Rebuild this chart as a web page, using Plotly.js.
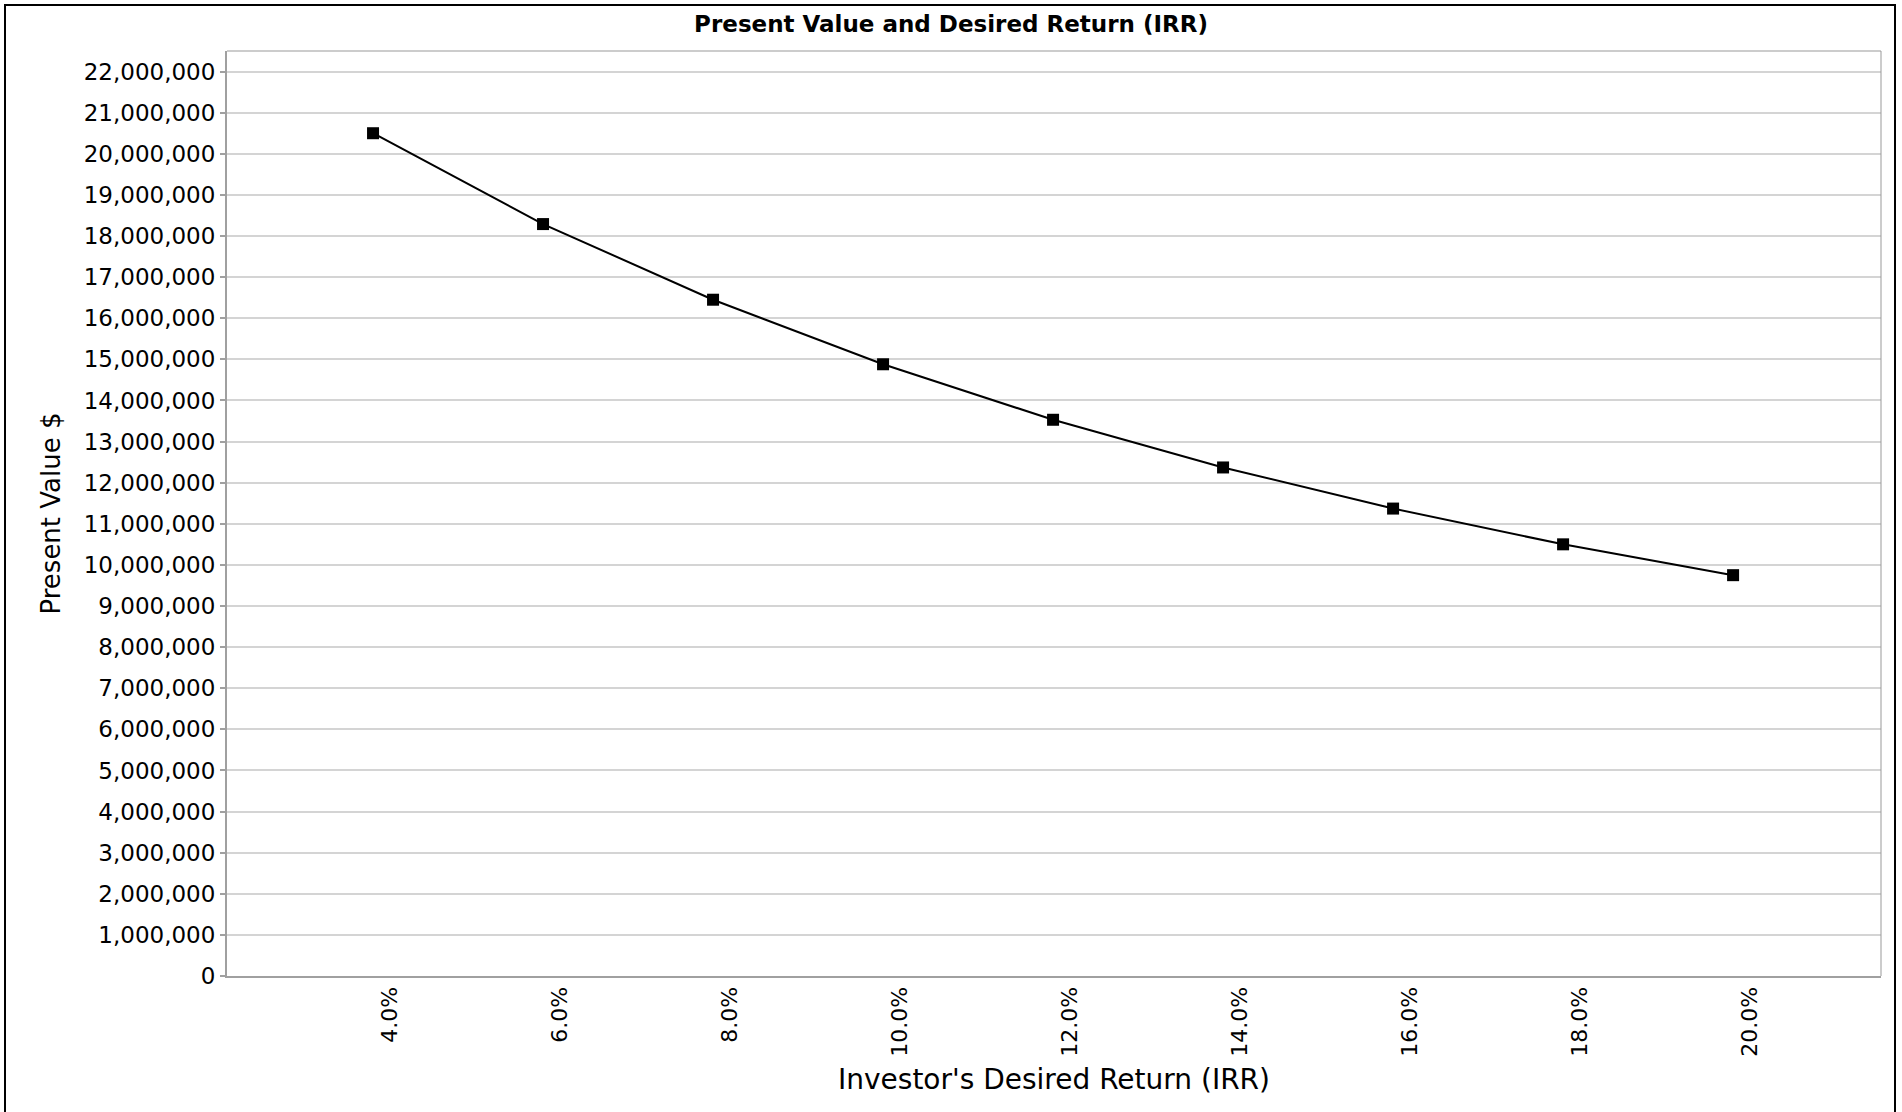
<!DOCTYPE html>
<html>
<head>
<meta charset="utf-8">
<script src="https://cdn.plot.ly/plotly-3.0.1.min.js"></script>
<style>
  html, body { margin: 0; padding: 0; background: #ffffff; }
  #wrap { position: relative; width: 1902px; height: 1112px; overflow: hidden; }
  #chart { position: absolute; left: 0; top: 0; width: 1902px; height: 1112px; }
  #frame { position: absolute; left: 4px; top: 4px; width: 1888px; height: 1130px;
           border: 2px solid #000; pointer-events: none; }
</style>
</head>
<body>
<div id="wrap">
  <div id="chart"></div>
  <div id="frame"></div>
</div>
<script>
// Data
const irrRates = [0.04, 0.06, 0.08, 0.10, 0.12, 0.14, 0.16, 0.18, 0.20];
const presentValues = [20500000, 18290000, 16450000, 14880000, 13530000, 12370000, 11370000, 10500000, 9750000];
const chartTitle = "Present Value and Desired Return (IRR)";
const xTitle = "Investor's Desired Return (IRR)";
const yTitle = "Present Value $";

const FONT = "DejaVu Sans, Liberation Sans, Arial, sans-serif";

const trace = {
  type: "scatter",
  mode: "lines+markers",
  x: irrRates,
  y: presentValues,
  line: { color: "#000000", width: 2 },
  marker: { symbol: "square", size: 12, color: "#000000" },
  showlegend: false,
  hoverinfo: "x+y"
};

const layout = {
  width: 1902,
  height: 1112,
  paper_bgcolor: "#ffffff",
  plot_bgcolor: "#ffffff",
  margin: { l: 227, r: 21, t: 51, b: 136, pad: 0 },
  showlegend: false,
  title: {
    text: "<b>" + chartTitle + "</b>",
    font: { family: FONT, size: 23, color: "#000000" },
    xref: "container", x: 0.5, xanchor: "center",
    yref: "container", y: 1 - 24 / 1112, yanchor: "middle"
  },
  xaxis: {
    type: "linear",
    range: [0.02282, 0.2174],
    tickvals: irrRates,
    tickformat: ".1%",
    tickangle: -90,
    ticks: "",
    ticklabelshift: 17,
    ticklabelstandoff: 0,
    tickfont: { family: FONT, size: 22, color: "#000000" },
    showgrid: false,
    zeroline: false,
    showline: true,
    linecolor: "#a0a0a0",
    linewidth: 2,
    mirror: false,
    automargin: false,
    title: {
      text: xTitle,
      font: { family: FONT, size: 28, color: "#000000" },
      standoff: 14
    }
  },
  yaxis: {
    type: "linear",
    range: [0, 22500000],
    dtick: 1000000,
    tick0: 0,
    tickformat: ",d",
    ticks: "outside",
    ticklen: 5,
    tickwidth: 2,
    tickcolor: "#a0a0a0",
    tickfont: { family: FONT, size: 23, color: "#000000" },
    showgrid: true,
    gridcolor: "#d4d4d4",
    gridwidth: 2,
    zeroline: false,
    showline: true,
    linecolor: "#a0a0a0",
    linewidth: 2,
    automargin: false,
    title: {
      text: yTitle,
      font: { family: FONT, size: 26, color: "#000000" },
      standoff: 16
    }
  },
  shapes: [
    { type: "line", xref: "paper", yref: "paper", x0: 0, x1: 1, y0: 1, y1: 1,
      line: { color: "#999999", width: 1 } },
    { type: "line", xref: "paper", yref: "paper", x0: 1, x1: 1, y0: 0, y1: 1,
      line: { color: "#999999", width: 1 } }
  ]
};

Plotly.newPlot("chart", [trace], layout, { displayModeBar: false, responsive: false, staticPlot: false });
</script>
</body>
</html>
